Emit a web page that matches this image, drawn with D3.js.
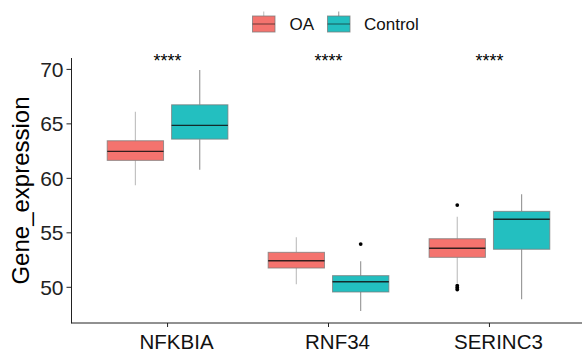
<!DOCTYPE html>
<html>
<head>
<meta charset="utf-8">
<script src="https://cdn.jsdelivr.net/npm/d3@7"></script>
<style>
  html, body { margin: 0; padding: 0; background: #fff; }
  svg { display: block; font-family: "Liberation Sans", Arial, Helvetica, sans-serif; }
</style>
</head>
<body>
<svg id="chart" width="582" height="352"></svg>
<script>
// Genes on the x axis and the two sample groups
const genes = ["NFKBIA", "RNF34", "SERINC3"];
const groups = ["OA", "Control"];
const groupColors = ["#F4736E", "#23BFC0"];
const whiskerColors = ["#bdbdbd", "#939393"];

// Box statistics per gene: [lower whisker, Q1, median, Q3, upper whisker]
const oaStats = [
  [59.36, 61.65, 62.48, 63.45, 66.11],
  [50.28, 51.77, 52.44, 53.21, 54.59],
  [50.37, 52.75, 53.58, 54.46, 56.48]
];
const controlStats = [
  [60.79, 63.60, 64.86, 66.75, 69.94],
  [47.83, 49.57, 50.51, 51.07, 52.39],
  [48.90, 53.49, 56.24, 56.97, 58.53]
];

// Outlying points per gene
const oaOutliers = [[], [], [57.55, 50.15, 49.98, 49.80]];
const controlOutliers = [[], [53.97], []];

// Significance labels above each gene
const sigLabels = ["****", "****", "****"];

const yTicks = [50, 55, 60, 65, 70];
const yTitle = "Gene_expression";

const stats = [oaStats, controlStats];
const outliers = [oaOutliers, controlOutliers];

const svg = d3.select("#chart");

const plotLeft = 71.5, plotRight = 586, plotTop = 58, plotBottom = 323;

// Continuous y domain with 5% padding around the data range
const allVals = [];
stats.forEach(s => s.forEach(r => allVals.push(...r)));
outliers.forEach(o => o.forEach(r => allVals.push(...r)));
const ymin = d3.min(allVals), ymax = d3.max(allVals);
const pad = (ymax - ymin) * 0.05;
const y = d3.scaleLinear().domain([ymin - pad, ymax + pad]).range([plotBottom, plotTop]);

// Discrete x positions with 0.6 units of padding on both ends
const x = d3.scaleLinear().domain([0.4, genes.length + 0.6]).range([plotLeft - 0.5, plotRight]);
const unit = x(2) - x(1);
const dodge = d3.scaleBand().domain(groups).range([-0.4, 0.4]);
const boxW = 0.35 * unit;

// Boxes
genes.forEach((g, gi) => {
  groups.forEach((grp, k) => {
    const s = stats[k][gi];
    const cx = x(gi + 1) + (dodge(grp) + dodge.bandwidth() / 2) * unit;
    const gEl = svg.append("g");
    gEl.append("line")
      .attr("x1", cx).attr("x2", cx)
      .attr("y1", y(s[4])).attr("y2", y(s[3]))
      .attr("stroke", whiskerColors[k]).attr("stroke-width", 1.1);
    gEl.append("line")
      .attr("x1", cx).attr("x2", cx)
      .attr("y1", y(s[1])).attr("y2", y(s[0]))
      .attr("stroke", whiskerColors[k]).attr("stroke-width", 1.1);
    gEl.append("rect")
      .attr("x", cx - boxW / 2).attr("width", boxW)
      .attr("y", y(s[3])).attr("height", y(s[1]) - y(s[3]))
      .attr("fill", groupColors[k])
      .attr("stroke", "#7a7a7a").attr("stroke-opacity", 0.75).attr("stroke-width", 1);
    gEl.append("line")
      .attr("x1", cx - boxW / 2).attr("x2", cx + boxW / 2)
      .attr("y1", y(s[2])).attr("y2", y(s[2]))
      .attr("stroke", "#111").attr("stroke-opacity", 0.85).attr("stroke-width", 1.4);
    outliers[k][gi].forEach(v => {
      gEl.append("circle")
        .attr("cx", cx).attr("cy", y(v)).attr("r", 1.9)
        .attr("fill", "#000");
    });
  });
  svg.append("text")
    .attr("x", x(gi + 1)).attr("y", 67)
    .attr("text-anchor", "middle")
    .attr("font-size", 18)
    .attr("fill", "#000")
    .text(sigLabels[gi]);
});

// Axes
const axisColor = "#222";
svg.append("line")
  .attr("x1", plotLeft).attr("x2", plotLeft).attr("y1", plotTop).attr("y2", plotBottom + 0.5)
  .attr("stroke", axisColor).attr("stroke-width", 1);
svg.append("line")
  .attr("x1", plotLeft).attr("x2", 582).attr("y1", plotBottom).attr("y2", plotBottom)
  .attr("stroke", axisColor).attr("stroke-width", 1);

yTicks.forEach(t => {
  svg.append("line")
    .attr("x1", plotLeft - 5).attr("x2", plotLeft).attr("y1", y(t)).attr("y2", y(t))
    .attr("stroke", axisColor).attr("stroke-width", 1);
  svg.append("text")
    .attr("x", plotLeft - 8).attr("y", y(t))
    .attr("dy", "0.36em")
    .attr("text-anchor", "end")
    .attr("font-size", 21)
    .attr("fill", "#222")
    .text(t);
});

genes.forEach((g, gi) => {
  svg.append("line")
    .attr("x1", x(gi + 1)).attr("x2", x(gi + 1)).attr("y1", plotBottom).attr("y2", plotBottom + 4)
    .attr("stroke", axisColor).attr("stroke-width", 1);
  svg.append("text")
    .attr("x", x(gi + 1)).attr("dx", 9).attr("y", 348.5)
    .attr("text-anchor", "middle")
    .attr("font-size", 20.5)
    .attr("fill", "#111")
    .text(g);
});

svg.append("text")
  .attr("transform", `translate(29,${(plotTop + plotBottom) / 2}) rotate(-90)`)
  .attr("text-anchor", "middle")
  .attr("font-size", 24)
  .attr("fill", "#000")
  .text(yTitle);

// Legend
const legendX = [252.5, 327.5];
const legendText = [289.5, 364];
groups.forEach((grp, k) => {
  const lg = svg.append("g");
  const kx = legendX[k], ky = 16, kw = 22.5, kh = 16;
  lg.append("line")
    .attr("x1", kx + kw / 2).attr("x2", kx + kw / 2)
    .attr("y1", ky - 4.5).attr("y2", ky)
    .attr("stroke", whiskerColors[k]).attr("stroke-width", 1);
  lg.append("rect")
    .attr("x", kx).attr("y", ky).attr("width", kw).attr("height", kh)
    .attr("fill", groupColors[k])
    .attr("stroke", "#7a7a7a").attr("stroke-opacity", 0.75).attr("stroke-width", 1);
  lg.append("line")
    .attr("x1", kx).attr("x2", kx + kw)
    .attr("y1", ky + kh / 2).attr("y2", ky + kh / 2)
    .attr("stroke", "#111").attr("stroke-opacity", 0.6).attr("stroke-width", 1);
  lg.append("text")
    .attr("x", legendText[k]).attr("y", ky + kh / 2)
    .attr("dy", "0.36em")
    .attr("font-size", 17)
    .attr("fill", "#111")
    .text(grp);
});
</script>
</body>
</html>
